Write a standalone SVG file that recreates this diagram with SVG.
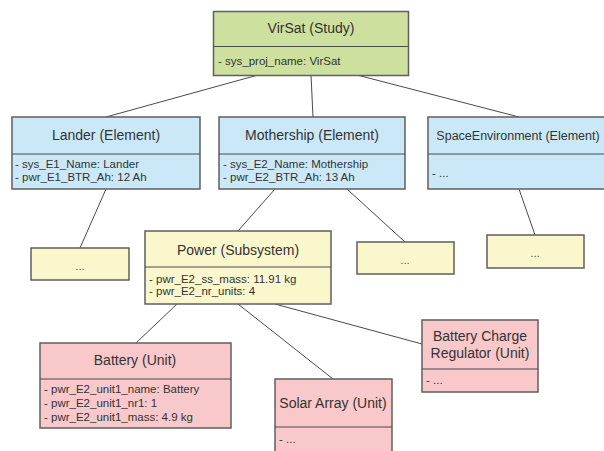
<svg xmlns="http://www.w3.org/2000/svg" width="604" height="451" viewBox="0 0 604 451">
<style>
.box{stroke:#5f5f5f;stroke-width:1.5}
.div{stroke:#4a4a4a;stroke-width:1.2}
.study{fill:#cee09e}
.elem{fill:#cbe8f8}
.sub{fill:#fbf7cc}
.unit{fill:#f9c8ca}
.t{font-family:"Liberation Sans",Arial,sans-serif;font-size:14px;fill:#333;text-anchor:middle}
.a{font-family:"Liberation Sans",Arial,sans-serif;font-size:11.5px;fill:#333}
.d{font-family:"Liberation Sans",Arial,sans-serif;font-size:11.5px;fill:#555;text-anchor:middle}
.c{stroke:#4a4a4a;stroke-width:1;fill:none}
</style>
<rect width="604" height="451" fill="#fff"/>
<g id="connectors">
<line class="c" x1="258" y1="75" x2="106" y2="117"/>
<line class="c" x1="311" y1="75" x2="313" y2="117"/>
<line class="c" x1="357" y1="75" x2="519" y2="117"/>
<line class="c" x1="106" y1="189" x2="80" y2="248"/>
<line class="c" x1="275" y1="189" x2="238" y2="231"/>
<line class="c" x1="347" y1="189" x2="405" y2="242"/>
<line class="c" x1="519" y1="189" x2="535" y2="235"/>
<line class="c" x1="177" y1="304" x2="136" y2="343"/>
<line class="c" x1="238" y1="304" x2="333" y2="379"/>
<line class="c" x1="275" y1="304" x2="422" y2="344"/>
</g>
<g id="virsat">
<rect class="box study" x="213.5" y="11.5" width="195" height="64"/>
<line class="div" x1="213.5" y1="46.5" x2="408.5" y2="46.5"/>
<text class="t" x="311" y="33">VirSat (Study)</text>
<text class="a" x="218" y="65">- sys_proj_name: VirSat</text>
</g>
<g id="lander">
<rect class="box elem" x="12" y="117" width="188" height="72"/>
<line class="div" x1="12" y1="154" x2="200" y2="154"/>
<text class="t" x="106" y="140">Lander (Element)</text>
<text class="a" x="15" y="168">- sys_E1_Name: Lander</text>
<text class="a" x="15" y="181">- pwr_E1_BTR_Ah: 12 Ah</text>
</g>
<g id="mothership">
<rect class="box elem" x="219" y="117" width="186" height="72"/>
<line class="div" x1="219" y1="154" x2="405" y2="154"/>
<text class="t" x="312" y="140">Mothership (Element)</text>
<text class="a" x="223" y="168">- sys_E2_Name: Mothership</text>
<text class="a" x="223" y="181">- pwr_E2_BTR_Ah: 13 Ah</text>
</g>
<g id="spaceenv">
<rect class="box elem" x="428" y="117" width="182" height="72"/>
<line class="div" x1="428" y1="154" x2="610" y2="154"/>
<text class="t" x="518" y="140" style="font-size:12.5px">SpaceEnvironment (Element)</text>
<text class="a" x="432" y="177">- ...</text>
</g>
<g id="lander-child">
<rect class="box sub" x="31" y="248" width="98" height="32"/>
<text class="d" x="80" y="270">...</text>
</g>
<g id="mothership-child">
<rect class="box sub" x="357" y="242" width="97" height="32"/>
<text class="d" x="405" y="264">...</text>
</g>
<g id="spaceenv-child">
<rect class="box sub" x="487" y="235" width="97" height="33"/>
<text class="d" x="535" y="257">...</text>
</g>
<g id="power">
<rect class="box sub" x="145" y="231" width="186" height="73"/>
<line class="div" x1="145" y1="267" x2="331" y2="267"/>
<text class="t" x="238" y="255">Power (Subsystem)</text>
<text class="a" x="149" y="283">- pwr_E2_ss_mass: 11.91 kg</text>
<text class="a" x="149" y="295">- pwr_E2_nr_units: 4</text>
</g>
<g id="battery">
<rect class="box unit" x="40" y="343" width="191" height="85"/>
<line class="div" x1="40" y1="379" x2="231" y2="379"/>
<text class="t" x="135" y="365">Battery (Unit)</text>
<text class="a" x="44" y="393">- pwr_E2_unit1_name: Battery</text>
<text class="a" x="44" y="407">- pwr_E2_unit1_nr1: 1</text>
<text class="a" x="44" y="421">- pwr_E2_unit1_mass: 4.9 kg</text>
</g>
<g id="solararray">
<rect class="box unit" x="275" y="379" width="117" height="73"/>
<line class="div" x1="275" y1="427" x2="392" y2="427"/>
<text class="t" x="333" y="408">Solar Array (Unit)</text>
<text class="a" x="279" y="443">- ...</text>
</g>
<g id="bcr">
<rect class="box unit" x="422" y="320" width="116" height="72"/>
<line class="div" x1="422" y1="369" x2="538" y2="369"/>
<text class="t" x="480" y="341">Battery Charge</text>
<text class="t" x="480" y="358">Regulator (Unit)</text>
<text class="a" x="426" y="384">- ...</text>
</g>
</svg>
